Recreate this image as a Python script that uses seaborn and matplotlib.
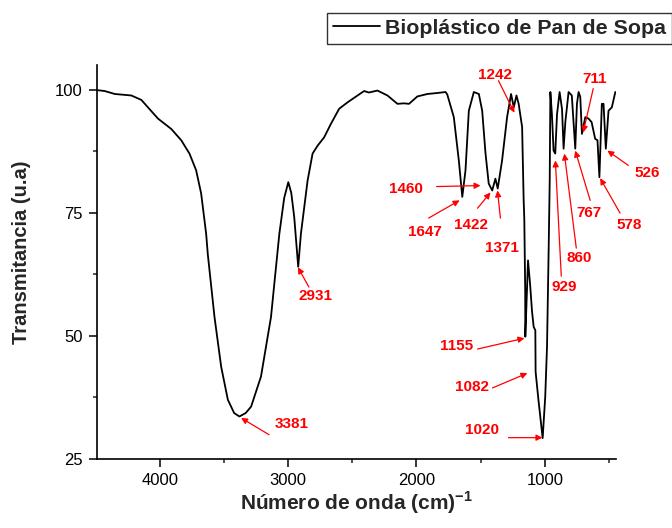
import numpy as np
import pandas as pd
import matplotlib
matplotlib.use('Agg')
import matplotlib.pyplot as plt
from matplotlib.ticker import MultipleLocator
import seaborn as sns

# FTIR spectrum (wavenumber cm-1, transmittance u.a)
wavenumber = [4493, 4428, 4350, 4221, 4143, 4013, 3910, 3832, 3768, 3716,
              3677, 3638, 3625, 3573, 3521, 3469, 3420, 3379, 3330, 3288,
              3211, 3133, 3068, 3030, 2998, 2975, 2952, 2921, 2900, 2848,
              2809, 2770, 2719, 2667, 2602, 2537, 2408, 2370, 2304, 2226,
              2148, 2097, 2058, 1993, 1915, 1838, 1773, 1760, 1709, 1670,
              1643, 1618, 1592, 1553, 1514, 1488, 1462, 1437, 1410, 1385,
              1367, 1333, 1294, 1263, 1242, 1221, 1204, 1177, 1165, 1160,
              1153, 1152, 1131, 1115, 1100, 1087, 1074, 1072, 1050, 1017,
              997, 983, 970, 962, 957, 945, 932, 919, 905, 885,
              866, 854, 840, 815, 790, 763, 750, 737, 724, 711,
              685, 660, 636, 608, 590, 575, 556, 543, 525, 504,
              478, 451]
transmittance = [99.9, 99.7, 99.1, 98.8, 97.9, 94.1, 92.0, 89.7, 87.0, 83.6,
                 78.9, 70.7, 66.5, 53.8, 43.7, 37.0, 34.3, 33.6, 34.3, 35.6,
                 41.7, 53.8, 70.7, 78.0, 81.2, 79.0, 74.1, 64.0, 70.7, 81.5,
                 87.0, 88.6, 90.3, 93.0, 96.1, 97.4, 99.7, 99.4, 99.8, 98.8,
                 97.1, 97.2, 97.1, 98.6, 99.1, 99.3, 99.5, 99.0, 94.4, 85.6,
                 78.2, 83.6, 95.7, 99.5, 99.1, 95.7, 87.0, 80.9, 79.5, 81.9,
                 79.9, 85.6, 94.4, 99.1, 96.4, 98.8, 97.1, 92.4, 77.5, 73.8,
                 59.3, 49.8, 65.3, 60.5, 55.0, 51.8, 51.1, 42.7, 37.0, 29.2,
                 37.6, 47.8, 68.0, 81.6, 99.5, 95.0, 87.6, 87.0, 95.0, 99.5,
                 96.0, 88.0, 93.5, 99.5, 98.8, 88.0, 97.1, 99.5, 98.5, 91.0,
                 94.4, 94.1, 93.4, 90.0, 89.7, 82.2, 97.1, 97.1, 88.0, 95.7,
                 96.4, 99.5]

series_name = 'Bioplástico de Pan de Sopa'

# peak labels
peak_labels = ['3381', '2931', '1460', '1647', '1422', '1371', '1242', '1155',
               '1082', '1020', '929', '860', '767', '578', '526', '711']

# annotation layout: text centre, arrow start, arrow tip (data coords)
label_pos = [(2970, 32.1), (2783, 58.0), (2084, 79.9), (1936, 71.0),
             (1579, 72.4), (1338, 67.8), (1390, 103.0), (1688, 47.9),
             (1571, 39.6), (1492, 30.9), (848, 59.9), (732, 65.7),
             (654, 74.9), (343, 72.4), (204, 83.0), (615, 102.2)]
arrow_from = [(3148, 29.9), (2838, 59.9), (1843, 80.3), (1905, 73.9),
              (1524, 75.9), (1346, 73.9), (1361, 101.8), (1524, 47.3),
              (1408, 39.4), (1283, 29.3), (872, 62.1), (755, 67.8),
              (647, 77.5), (414, 74.9), (350, 84.6), (623, 100.2)]
arrow_to = [(3366, 33.3), (2923, 63.9), (1501, 80.5), (1664, 77.5),
            (1423, 79.1), (1369, 79.5), (1237, 95.3), (1159, 49.5),
            (1136, 42.4), (1019, 29.3), (918, 85.6), (848, 87.0),
            (763, 87.6), (569, 82.0), (513, 87.6), (701, 91.3)]

df = pd.DataFrame({'Número de onda': wavenumber, 'Transmitancia': transmittance})

sns.set_style('ticks')
plt.rcParams['font.family'] = ['Liberation Sans', 'DejaVu Sans']
plt.rcParams['mathtext.fontset'] = 'custom'
plt.rcParams['mathtext.rm'] = 'Liberation Sans'
plt.rcParams['mathtext.bf'] = 'Liberation Sans:bold'

fig = plt.figure(figsize=(6.72, 5.28), dpi=100)
ax = fig.add_axes([0.144, 0.131, 0.773, 0.746])

sns.lineplot(data=df, x='Número de onda', y='Transmitancia', sort=False,
             estimator=None, color='black', linewidth=1.3, ax=ax, label=series_name)

ax.set_xlim(4490, 444)
ax.set_ylim(25, 105)
ax.xaxis.set_major_locator(MultipleLocator(1000))
ax.xaxis.set_minor_locator(MultipleLocator(500))
ax.yaxis.set_major_locator(MultipleLocator(25))
ax.yaxis.set_minor_locator(MultipleLocator(12.5))
ax.tick_params(which='major', direction='out', length=6, width=1.1,
               labelsize=12, pad=4, colors='black')
ax.tick_params(which='minor', direction='out', length=3, width=1.1)
for side in ['top', 'right']:
    ax.spines[side].set_visible(False)
for side in ['left', 'bottom']:
    ax.spines[side].set_linewidth(1.2)
    ax.spines[side].set_color('black')

ax.set_xlabel('Número de onda (cm)$^{\\mathbf{-1}}$', fontsize=15,
              fontweight='bold', labelpad=1)
ax.set_ylabel('Transmitancia (u.a)', fontsize=14.5, fontweight='bold')
ax.yaxis.set_label_coords(-0.127, 0.525)

for lab, tp, a0, a1 in zip(peak_labels, label_pos, arrow_from, arrow_to):
    ax.text(tp[0], tp[1], lab, color='red', fontsize=11, fontweight='bold',
            ha='center', va='center', clip_on=False)
    ax.annotate('', xy=a1, xytext=a0, annotation_clip=False,
                arrowprops=dict(arrowstyle='-|>', color='red', lw=0.9,
                                mutation_scale=9, shrinkA=0, shrinkB=0))

handles, labels = ax.get_legend_handles_labels()
ax.get_legend().remove()
leg = fig.legend(handles, labels, loc='upper left',
                 bbox_to_anchor=(327 / 672, 1 - 12.5 / 528),
                 prop={'weight': 'bold', 'size': 15.4}, frameon=True,
                 fancybox=False, borderpad=0.3, handlelength=2.2,
                 handletextpad=0.2, borderaxespad=0)
leg.get_frame().set_edgecolor('black')
leg.get_frame().set_linewidth(1.0)

fig.savefig('out.png', dpi=100)
